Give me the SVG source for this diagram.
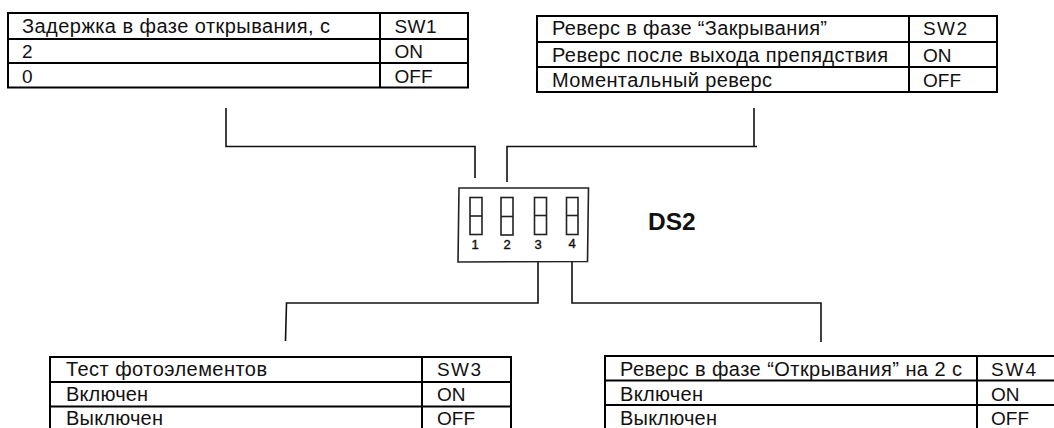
<svg xmlns="http://www.w3.org/2000/svg" width="1054" height="428" viewBox="0 0 1054 428">
<style>
text{font-family:"Liberation Sans",Arial,sans-serif;fill:#111}
.t{font-size:19px}
.r{font-size:20px}
.b{fill:none;stroke:#000;stroke-width:2}
.c{fill:none;stroke:#111;stroke-width:1.6}
.s{fill:none;stroke:#222;stroke-width:1.6}
.n{font-size:13px;text-anchor:middle;stroke:#111;stroke-width:.4}
</style>
<rect width="1054" height="428" fill="#fff"/>
<g id="connectors">
<path class="c" d="M226 108V146.500H475V178"/>
<path class="c" d="M754 108V146.500M757 146.500H507V182"/>
<path class="c" d="M538 262V303H286.500L285.500 341"/>
<path class="c" d="M572 262V303H821V342"/>
</g>
<g id="ds2">
<path class="s" d="M459 188H588.500L587.500 261.500 458 262Z"/>
<rect class="s" x="470" y="197.500" width="12" height="37"/><path class="s" d="M470 216H482"/>
<rect class="s" x="501" y="197.500" width="12" height="37.500"/><path class="s" d="M501 216.500H513"/>
<rect class="s" x="534.500" y="197.500" width="12" height="37"/><path class="s" d="M534.500 215.500H546.500"/>
<rect class="s" x="566.500" y="197.500" width="11.500" height="37"/><path class="s" d="M566.500 215.500H578"/>
<text class="n" x="475" y="249">1</text><text class="n" x="507" y="249">2</text><text class="n" x="538" y="249">3</text><text class="n" x="572" y="248">4</text>
<text x="648" y="230" font-size="24.500" font-weight="700">DS2</text>
</g>
<g id="sw1">
<path class="b" d="M8 13H468V87.500H8ZM8 39H468M8 63H468M380 13V87.500"/>
<text class="r" x="22" y="33" textLength="308">Задержка в фазе открывания, с</text><text class="t" x="394.500" y="33" textLength="42">SW1</text>
<text class="t" x="22" y="58">2</text><text class="t" x="394.500" y="58">ON</text>
<text class="t" x="22" y="83">0</text><text class="t" x="394.500" y="83">OFF</text>
</g>
<g id="sw2">
<path class="b" d="M537 16H997V92H537ZM537 42H997M537 67H997M909 16V92"/>
<text class="r" x="552" y="35" textLength="275">Реверс в фазе “Закрывания”</text><text class="t" x="923" y="35" textLength="44">SW2</text>
<text class="r" x="552" y="62" textLength="336">Реверс после выхода препядствия</text><text class="t" x="923" y="62">ON</text>
<text class="r" x="552" y="87" textLength="220">Моментальный реверс</text><text class="t" x="923" y="87">OFF</text>
</g>
<g id="sw3">
<path class="b" d="M50 432V357H511V432M50 382H511M50 406.500H511M422 357V432"/>
<text class="r" x="66" y="376" textLength="201">Тест фотоэлементов</text><text class="t" x="437" y="376" textLength="44">SW3</text>
<text class="r" x="66" y="401" textLength="82">Включен</text><text class="t" x="437" y="401">ON</text>
<text class="r" x="66" y="425" textLength="97">Выключен</text><text class="t" x="437" y="425">OFF</text>
</g>
<g id="sw4">
<path class="b" d="M605 432V356H1060M605 380.500H1060M605 405H1060M977 356V432"/>
<text class="r" x="620" y="376" textLength="342">Реверс в фазе “Открывания” на 2 с</text><text class="t" x="991" y="376" textLength="45">SW4</text>
<text class="r" x="620" y="401" textLength="83">Включен</text><text class="t" x="991" y="401">ON</text>
<text class="r" x="620" y="425" textLength="97">Выключен</text><text class="t" x="991" y="425">OFF</text>
</g>
</svg>
